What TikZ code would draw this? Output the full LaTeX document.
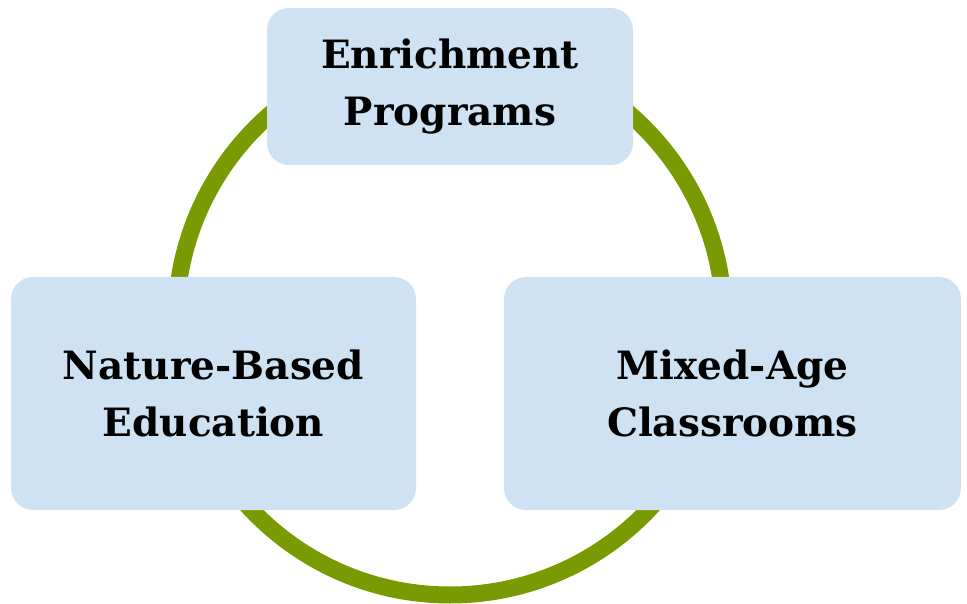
\documentclass[tikz,border=0pt]{standalone}
\usepackage{fontspec}
\setmainfont{DejaVu Serif}
\usepackage{tikz}
\definecolor{boxBlue}{HTML}{CFE2F3}
\definecolor{ringGreen}{HTML}{7A9A01}
\newcommand{\boxFont}[0]{\fontsize{39}{57}\selectfont\bfseries}

\begin{document}
\begin{tikzpicture}[x=1pt, y=-1pt]
  \tikzset{topic box/.style={fill=boxBlue,rounded corners=22pt,align=center,
      inner sep=0pt,font=\boxFont}}
  \useasboundingbox (0,0) rectangle (967,604);
  \coordinate (hub) at (450,321);
  \draw[ringGreen, line width=17pt] (hub) circle (274);
  \node[topic box, minimum width=366pt, minimum height=157pt]
    (enrich) at (450,86.5) {Enrichment\\Programs};
  \node[topic box, minimum width=405pt, minimum height=233pt]
    (nature) at (213.5,393.5) {Nature-Based\\Education};
  \node[topic box, minimum width=457pt, minimum height=233pt]
    (mixed) at (732.5,393.5) {Mixed-Age\\Classrooms};
\end{tikzpicture}
\end{document}
